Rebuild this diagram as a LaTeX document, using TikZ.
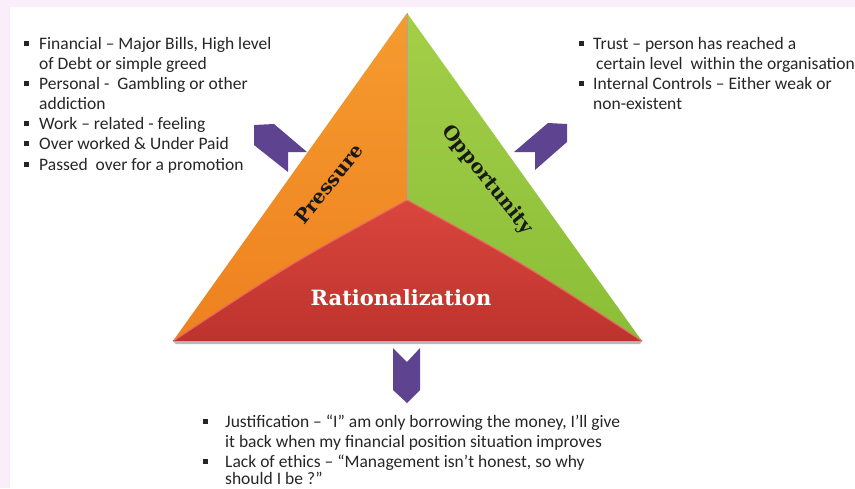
\documentclass[tikz,border=0pt]{standalone}
\usepackage{fontspec}
\setmainfont{Carlito}
\newfontfamily\lblfont{DejaVu Serif}
\definecolor{pinkbg}{HTML}{FAEEFA}
\definecolor{orgT}{HTML}{F59B2E}
\definecolor{orgB}{HTML}{EE8120}
\definecolor{grnT}{HTML}{A3CE48}
\definecolor{grnB}{HTML}{8BBE38}
\definecolor{redT}{HTML}{D9463D}
\definecolor{redB}{HTML}{BD332D}
\definecolor{redHi}{HTML}{E86A5E}
\definecolor{arrowpurple}{HTML}{5E4490}
\definecolor{txt}{HTML}{262626}
\newcommand{\sqb}{\rule[3pt]{5pt}{5pt}}
\tikzset{
  bodytext/.style={anchor=base west, inner sep=0pt, font=\fontsize{17.5}{20}\selectfont, text=txt},
  lbl/.style={font=\lblfont\bfseries\fontsize{19.5}{22}\selectfont, inner sep=0pt, text=black!90},
  chev/.style={fill=arrowpurple}
}
\begin{document}
\begin{tikzpicture}[x=1pt,y=-1pt]
\clip (0,0) rectangle (855,488);
\fill[white] (0,0) rectangle (855,488);
\fill[pinkbg] (0,0) rectangle (855,7);
\fill[pinkbg] (0,0) rectangle (10,488);

% triangle corners
\coordinate (A) at (407,13);
\coordinate (BL) at (173,341);
\coordinate (BR) at (642,341);
\coordinate (C) at (407,200);

% shadow under base
\fill[black!45, opacity=0.6] (173,341) -- (642,341) -- (640,344) -- (176,344) -- cycle;

% faces
\shade[top color=orgT, bottom color=orgB] (A) -- (C) .. controls (290,264) .. (BL) -- cycle;
\shade[top color=grnT, bottom color=grnB] (A) -- (BR) .. controls (524,264) .. (C) -- cycle;
\shade[top color=redT, bottom color=redB] (BL) .. controls (290,264) .. (C) .. controls (524,264) .. (BR) -- cycle;
\draw[redHi, line width=1.2pt] (BL) .. controls (290,264) .. (C) .. controls (524,264) .. (BR);
\draw[black!35, line width=0.6pt] (A) -- (C);

% labels
\node[lbl, rotate=51] (pressure) at (329,184) {Pressure};
\node[lbl, rotate=-51] (opportunity) at (487,180) {Opportunity};
\node[lbl, text=white, font=\lblfont\bfseries\fontsize{21}{24}\selectfont] (rational) at (401,298) {Rationalization};

% chevron arrows
\fill[chev] (254,125) -- (274,124) -- (307,152) -- (288,152) -- (288,172) -- (254,145) -- cycle;
\fill[chev] (548,123) -- (567,124) -- (567,142) -- (535,170) -- (535,152) -- (514,152) -- cycle;
\fill[chev] (393,348) -- (407,362) -- (420,348) -- (420,390) -- (407,403) -- (393,390) -- cycle;

% left text
\node[bodytext] (l1) at (24,49) {\sqb\hspace{10pt}Financial – Major Bills, High level};
\node[bodytext] (l2) at (39,69) {of Debt or simple greed};
\node[bodytext] (l3) at (24,89) {\sqb\hspace{10pt}Personal -\ \ Gambling or other};
\node[bodytext] (l4) at (39,109) {addiction};
\node[bodytext] (l5) at (24,129) {\sqb\hspace{10pt}Work – related - feeling};
\node[bodytext] (l6) at (24,149) {\sqb\hspace{10pt}Over worked \& Under Paid};
\node[bodytext] (l7) at (24,170) {\sqb\hspace{10pt}Passed\ \ over for a promotion};

% right text
\node[bodytext] (r1) at (579,49) {\sqb\hspace{9pt}Trust – person has reached a};
\node[bodytext] (r2) at (596,69) {certain level\ \ within the organisation};
\node[bodytext] (r3) at (579,89) {\sqb\hspace{9pt}Internal Controls – Either weak or};
\node[bodytext] (r4) at (593,109) {non-existent};

% bottom text
\node[bodytext] (b1) at (203,427) {\sqb\hspace{17pt}Justification – “I” am only borrowing the money, I’ll give};
\node[bodytext] (b2) at (225,447) {it back when my financial position situation improves};
\node[bodytext] (b3) at (203,467) {\sqb\hspace{17pt}Lack of ethics – “Management isn’t honest, so why};
\node[bodytext] (b4) at (225,484) {should I be ?”};
\end{tikzpicture}
\end{document}
